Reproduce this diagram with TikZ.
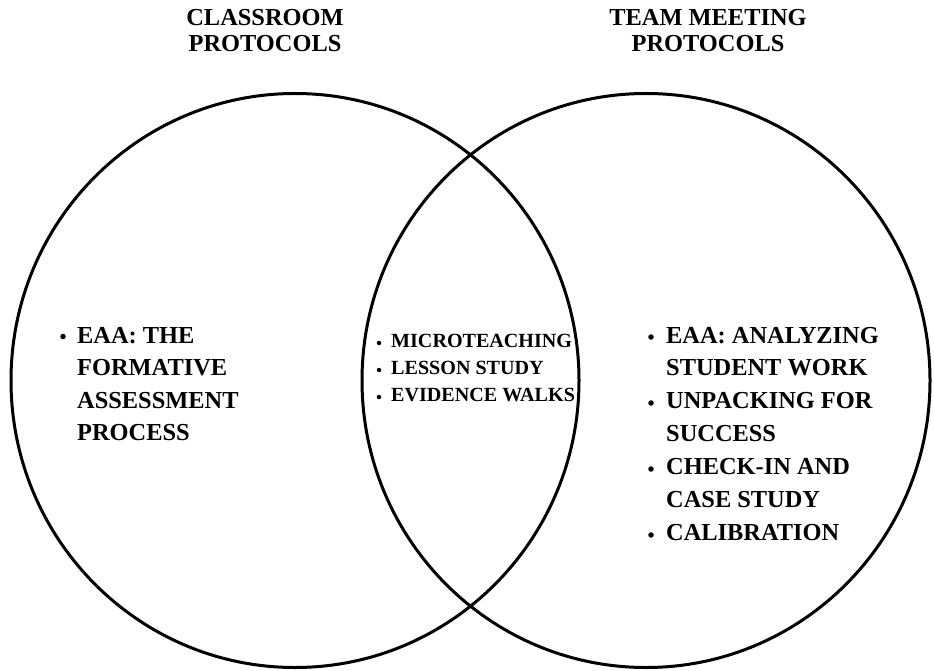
\documentclass[tikz,border=0pt]{standalone}
\usepackage{fontspec}
\setmainfont{Liberation Serif}
\begin{document}
\begin{tikzpicture}[x=1pt,y=-1pt,
  ring/.style={line width=3pt, draw=black},
  bigtxt/.style={font=\bfseries\fontsize{24.4}{26}\selectfont, inner sep=0pt, anchor=base west},
  titletxt/.style={font=\bfseries\fontsize{24.4}{26}\selectfont, inner sep=0pt, anchor=base},
  smalltxt/.style={font=\bfseries\fontsize{20.1}{22}\selectfont, inner sep=0pt, anchor=base west},
  bigbul/.style={circle, fill=black, inner sep=0pt, minimum size=5.5pt},
  smallbul/.style={circle, fill=black, inner sep=0pt, minimum size=4.5pt}
]
\useasboundingbox (0,0) rectangle (934,671);
% circles
\draw[ring] (295,380.5) ellipse [x radius=284, y radius=287];
\draw[ring] (646,380.5) ellipse [x radius=284, y radius=287];
% titles
\node[titletxt] (t1a) at (265,26) {CLASSROOM};
\node[titletxt] (t1b) at (265,52) {PROTOCOLS};
\node[titletxt] (t2a) at (708,26) {TEAM MEETING};
\node[titletxt] (t2b) at (708,52) {PROTOCOLS};
% left
\node[bigbul] (lb1) at (63,336.5) {};
\node[bigtxt] (l1) at (77,343) {EAA: THE};
\node[bigtxt] (l2) at (77,375.5) {FORMATIVE};
\node[bigtxt] (l3) at (77,408) {ASSESSMENT};
\node[bigtxt] (l4) at (77,440.5) {PROCESS};
% middle
\node[smallbul] (mb1) at (379,343) {};
\node[smallbul] (mb2) at (379,370) {};
\node[smallbul] (mb3) at (379,397) {};
\node[smalltxt] (m1) at (391,347) {MICROTEACHING};
\node[smalltxt] (m2) at (391,374) {LESSON STUDY};
\node[smalltxt] (m3) at (391,401) {EVIDENCE WALKS};
% right
\node[bigbul] (rb1) at (651,337) {};
\node[bigbul] (rb2) at (651,403) {};
\node[bigbul] (rb3) at (651,469) {};
\node[bigbul] (rb4) at (651,535) {};
\node[bigtxt] (r1) at (666,343) {EAA: ANALYZING};
\node[bigtxt] (r2) at (666,375.5) {STUDENT WORK};
\node[bigtxt] (r3) at (666,408.5) {UNPACKING FOR};
\node[bigtxt] (r4) at (666,441) {SUCCESS};
\node[bigtxt] (r5) at (666,474.5) {CHECK-IN AND};
\node[bigtxt] (r6) at (666,507) {CASE STUDY};
\node[bigtxt] (r7) at (666,540) {CALIBRATION};
\end{tikzpicture}
\end{document}
